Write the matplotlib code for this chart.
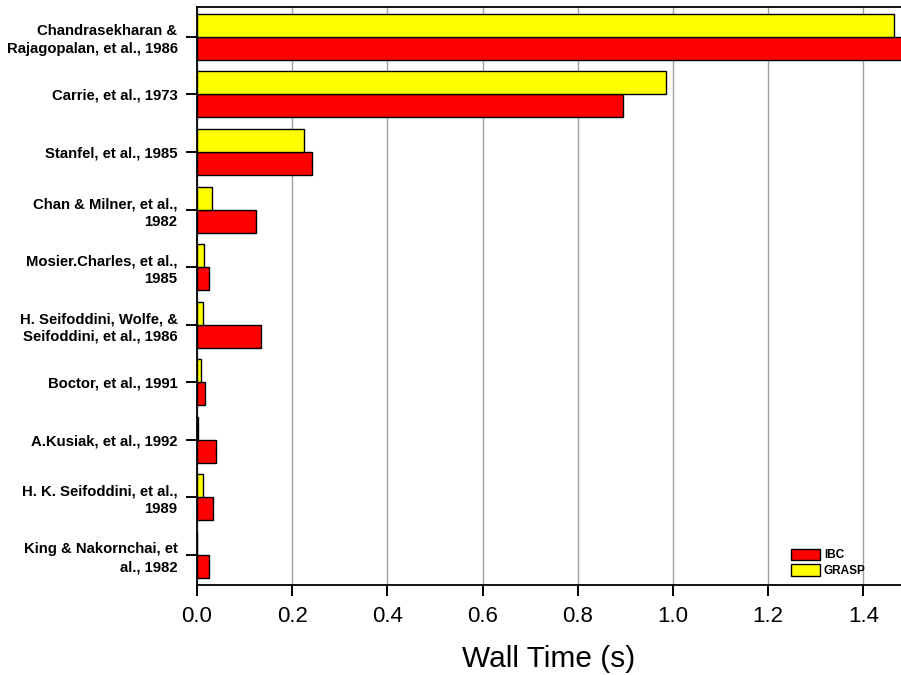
import matplotlib
matplotlib.use('Agg')
import matplotlib.pyplot as plt
import numpy as np

plt.rcParams['font.family'] = ['Liberation Sans', 'DejaVu Sans']

# 数据
labels = [
    'Chandrasekharan &\nRajagopalan, et al., 1986',
    'Carrie, et al., 1973',
    'Stanfel, et al., 1985',
    'Chan & Milner, et al.,\n1982',
    'Mosier.Charles, et al.,\n1985',
    'H. Seifoddini, Wolfe, &\nSeifoddini, et al., 1986',
    'Boctor, et al., 1991',
    'A.Kusiak, et al., 1992',
    'H. K. Seifoddini, et al.,\n1989',
    'King & Nakornchai, et\nal., 1982',
]
ibc = [1.50, 0.895, 0.241, 0.123, 0.025, 0.135, 0.017, 0.041, 0.034, 0.025]
grasp = [1.465, 0.986, 0.225, 0.031, 0.015, 0.013, 0.008, 0.002, 0.013, 0.001]
xticks = [0.0, 0.2, 0.4, 0.6, 0.8, 1.0, 1.2, 1.4]

fig = plt.figure(figsize=(9.01, 6.75), dpi=100)
ax = fig.add_axes([0.2186, 0.1326, 0.7814, 0.8563])

y = np.arange(len(labels))
h = 0.4
ax.barh(y + h / 2, ibc, height=h, color='#ff0000', edgecolor='black',
        linewidth=1.0, label='IBC')
ax.barh(y - h / 2, grasp, height=h, color='#ffff00', edgecolor='black',
        linewidth=1.0, label='GRASP')

ax.set_ylim(len(labels) - 0.47, -0.51)
ax.set_xlim(0, 1.479)
ax.set_yticks(y)
ax.set_yticklabels(labels, fontsize=10.7, fontweight='bold', linespacing=1.32)
ax.set_xticks(xticks)
ax.set_xticklabels([f'{v:.1f}' for v in xticks], fontsize=16)

ax.tick_params(axis='both', direction='out', length=8, width=1.4)
ax.tick_params(axis='x', pad=7)
ax.tick_params(axis='y', pad=6)
ax.xaxis.grid(True, color='#a0a0a0', linewidth=1.0)
ax.set_axisbelow(True)

for side in ['left', 'bottom', 'top']:
    ax.spines[side].set_linewidth(1.3)
ax.spines['right'].set_visible(False)

ax.set_xlabel('Wall Time (s)', fontsize=21.5, labelpad=13)

leg = ax.legend(loc='lower left', bbox_to_anchor=(0.836, 0.004),
                frameon=False, prop={'size': 8.5, 'weight': 'bold'},
                borderpad=0, handlelength=2.4, handleheight=1.15,
                labelspacing=0.25, handletextpad=0.35)

plt.savefig('out.png', dpi=100)
